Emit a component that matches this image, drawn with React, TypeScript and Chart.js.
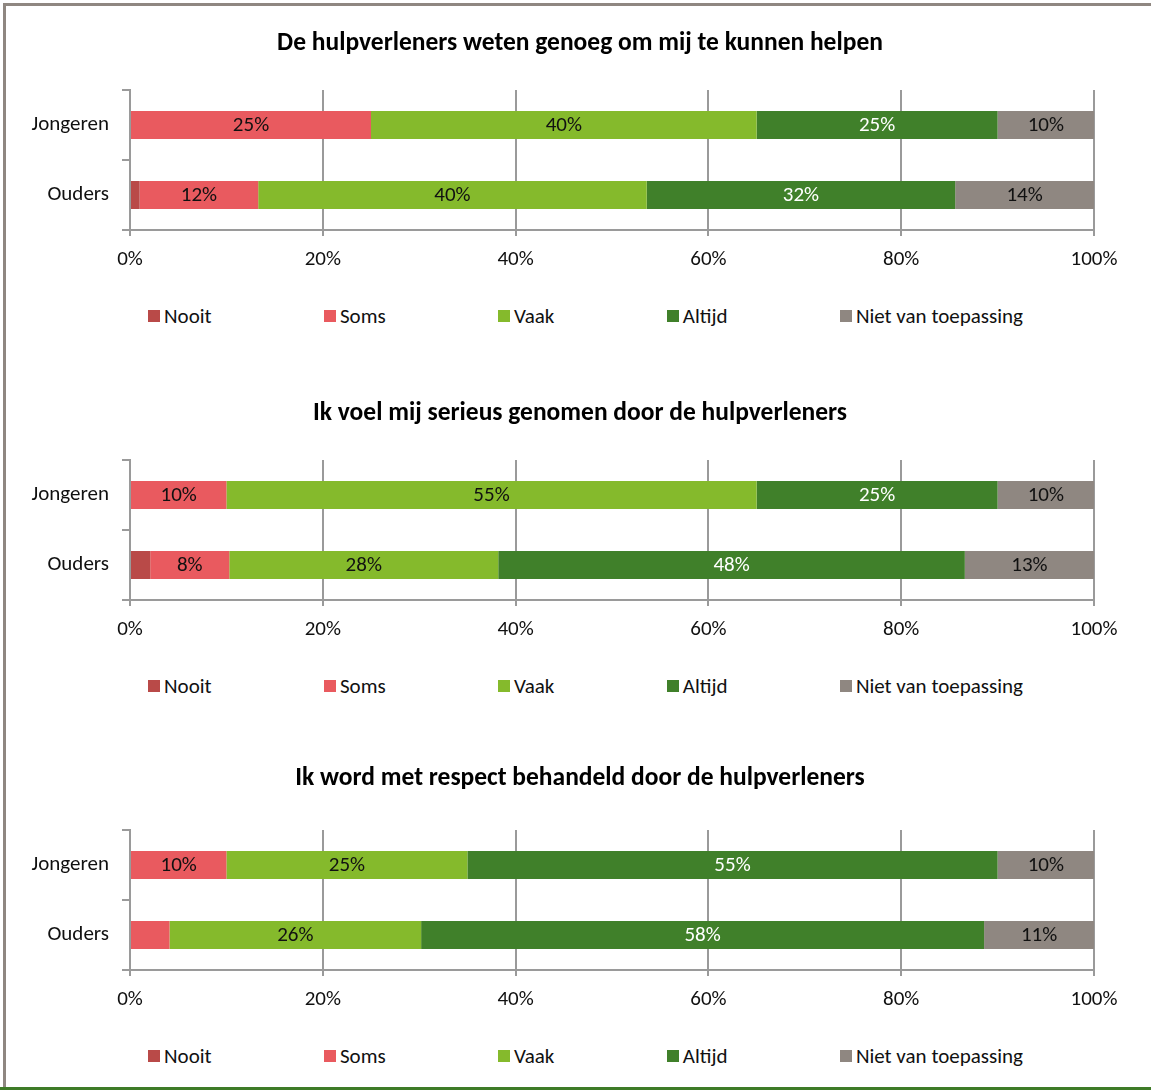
import React, { useEffect, useRef } from "react";
import { Chart, registerables } from "chart.js";

Chart.register(...registerables);

// ---------- data ----------
const categories = ["Jongeren", "Ouders"];
const seriesNames = ["Nooit", "Soms", "Vaak", "Altijd", "Niet van toepassing"];
const xTickValues = [0, 20, 40, 60, 80, 100];

const titles = [
  "De hulpverleners weten genoeg om mij te kunnen helpen",
  "Ik voel mij serieus genomen door de hulpverleners",
  "Ik word met respect behandeld door de hulpverleners",
];

// chart 1 (values per category: Jongeren, Ouders)
const c1Nooit = [0, 1.0];
const c1Soms = [25, 12.3];
const c1Vaak = [40, 40.3];
const c1Altijd = [25, 32.0];
const c1Niet = [10, 14.4];

// chart 2
const c2Nooit = [0, 2.1];
const c2Soms = [10, 8.2];
const c2Vaak = [55, 27.9];
const c2Altijd = [25, 48.4];
const c2Niet = [10, 13.4];

// chart 3
const c3Nooit = [0, 0];
const c3Soms = [10, 4.1];
const c3Vaak = [25, 26.1];
const c3Altijd = [55, 58.4];
const c3Niet = [10, 11.4];

const chartSeries = [
  [c1Nooit, c1Soms, c1Vaak, c1Altijd, c1Niet],
  [c2Nooit, c2Soms, c2Vaak, c2Altijd, c2Niet],
  [c3Nooit, c3Soms, c3Vaak, c3Altijd, c3Niet],
];

// ---------- styles ----------
const seriesColors = ["#b94a48", "#e95a5f", "#85ba2c", "#40802a", "#8f8781"];
const labelColors = ["#111", "#111", "#111", "#ffffff", "#111"];
const FONT = "Calibri, Carlito, Lato, 'Open Sans', sans-serif";
const TEXT = "#111";
const GRID = "#9a9a9a";

const CHART_TOPS = [0, 370, 740];
const TITLE_Y = [44, 44, 39];
const PLOT_TOP = 90;
const PLOT_BOTTOM = 230;
const CANVAS_W = 1160;
const CANVAS_H = 300;
const X_AXIS_H = 50;
const Y_AXIS_W = 130;
const RIGHT_W = CANVAS_W - 1094;

const valueLabels = {
  id: "valueLabels",
  afterDatasetsDraw(chart: any) {
    const ctx = chart.ctx;
    ctx.save();
    ctx.font = `21px ${FONT}`;
    ctx.textAlign = "center";
    ctx.textBaseline = "middle";
    chart.data.datasets.forEach((ds: any, i: number) => {
      const meta = chart.getDatasetMeta(i);
      meta.data.forEach((el: any, j: number) => {
        const v = ds.data[j];
        if (v < 5) return;
        const p = el.getCenterPoint();
        ctx.fillStyle = ds.labelColor;
        ctx.fillText(Math.round(v) + "%", p.x, p.y + 1);
      });
    });
    ctx.restore();
  },
};

function BarChart({ index }: { index: number }) {
  const ref = useRef<HTMLCanvasElement | null>(null);
  useEffect(() => {
    if (!ref.current) return;
    const titleSize = 25.5;
    const lh = titleSize * 1.2;
    const ty = TITLE_Y[index];
    const chart = new Chart(ref.current, {
      type: "bar",
      data: {
        labels: categories,
        datasets: seriesNames.map((name, i) => ({
          label: name,
          data: chartSeries[index][i],
          backgroundColor: seriesColors[i],
          borderWidth: 0,
          barPercentage: 0.4,
          categoryPercentage: 1,
          labelColor: labelColors[i],
        })) as any,
      },
      options: {
        indexAxis: "y",
        animation: false,
        responsive: false,
        layout: { padding: { left: 0, right: 0, top: 0, bottom: CANVAS_H - PLOT_BOTTOM - X_AXIS_H } },
        plugins: {
          legend: { display: false },
          tooltip: { enabled: false },
          title: {
            display: true,
            text: titles[index],
            color: "#000",
            font: { family: FONT, size: titleSize, weight: "bold", lineHeight: 1.2 },
            padding: { top: ty - lh / 2, bottom: PLOT_TOP - ty - lh / 2 },
          },
        },
        scales: {
          x: {
            stacked: true,
            min: 0,
            max: 100,
            afterFit: (s: any) => { s.height = X_AXIS_H; },
            afterBuildTicks: (s: any) => { s.ticks = xTickValues.map((v) => ({ value: v })); },
            ticks: {
              callback: (v: any) => v + "%",
              color: TEXT,
              font: { family: FONT, size: 21 },
              padding: 11,
              maxRotation: 0,
            },
            grid: { color: GRID, lineWidth: 2, tickLength: 6, drawTicks: true },
            border: { color: GRID, width: 2 },
          },
          y: {
            stacked: true,
            afterFit: (s: any) => { s.width = Y_AXIS_W; },
            ticks: { color: TEXT, font: { family: FONT, size: 21 }, padding: 13 },
            grid: { drawOnChartArea: false, drawTicks: true, tickLength: 8, color: GRID, lineWidth: 2, offset: true },
            border: { color: GRID, width: 2 },
          },
          spacer: {
            type: "linear",
            position: "right",
            axis: "y",
            display: true,
            afterFit: (s: any) => { s.width = RIGHT_W; },
            ticks: { display: false },
            grid: { display: false, drawTicks: false },
            border: { display: false },
          },
        },
      } as any,
      plugins: [valueLabels],
    });
    return () => chart.destroy();
  }, [index]);

  const top = CHART_TOPS[index];
  return (
    <div style={{ position: "absolute", left: 0, top, width: 1151, height: 370 }}>
      <canvas ref={ref} width={CANVAS_W} height={CANVAS_H} style={{ position: "absolute", left: 0, top: 0 }} />
      <div
        style={{
          position: "absolute",
          left: 148,
          width: 875,
          top: PLOT_BOTTOM + 86 - 13,
          height: 26,
          display: "flex",
          justifyContent: "space-between",
          alignItems: "center",
          fontFamily: FONT,
          fontSize: 21,
          color: TEXT,
          whiteSpace: "nowrap",
        }}
      >
        {seriesNames.map((n, i) => (
          <div key={n} style={{ display: "flex", alignItems: "center" }}>
            <span style={{ display: "inline-block", width: 12, height: 12, background: seriesColors[i], marginRight: 4 }} />
            <span>{n}</span>
          </div>
        ))}
      </div>
    </div>
  );
}

export default function App() {
  return (
    <div style={{ position: "absolute", left: 0, top: 0, width: 1151, height: 1090, background: "#fff", overflow: "hidden" }}>
      <div
        style={{
          position: "absolute",
          left: 3,
          top: 3,
          width: 1148,
          height: 1081,
          borderLeft: "3px solid #8f8781",
          borderTop: "3px solid #8f8781",
          borderBottom: "3px solid #8f8781",
        }}
      />
      <div style={{ position: "absolute", left: 0, top: 1087, width: 1151, height: 3, background: "#3e7b27" }} />
      {[0, 1, 2].map((i) => (
        <BarChart key={i} index={i} />
      ))}
    </div>
  );
}
